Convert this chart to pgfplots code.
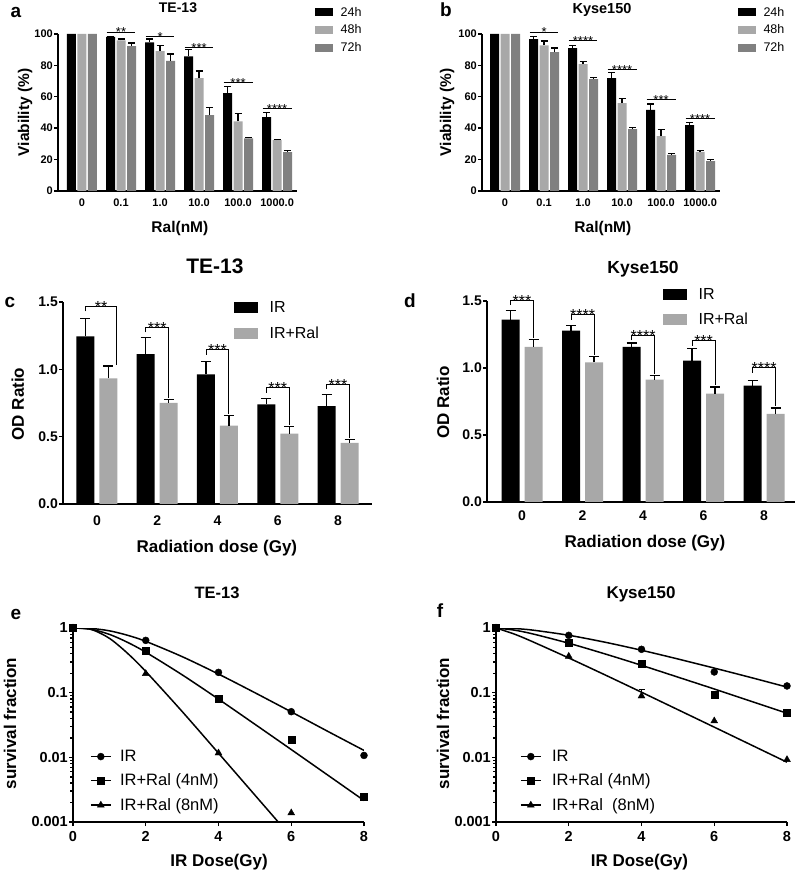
\documentclass[border=0pt]{standalone}
\usepackage{fontspec}
\setmainfont{Liberation Sans}
\usepackage{pgfplots}
\pgfplotsset{compat=1.18}
\definecolor{gA}{HTML}{A8A8A8}
\definecolor{gB}{HTML}{808080}
\newcommand{\fs}[1]{\fontsize{#1}{#1}\selectfont}
\pgfplotsset{
  base/.style={scale only axis, anchor=south west,
    axis lines*=left, axis line style={line width=1.6pt,-,black},
    tick align=outside, major tick length=4pt,
    tick style={line width=1.4pt,black},
    /pgf/number format/assume math mode=true,
    tick label style={font=\fs{#1}\bfseries},
    yticklabel style={inner sep=1pt},
  },
  eb/.style={error bars/.cd, y dir=plus, y explicit,
    error bar style={draw=black, line width=1.3pt},
    error mark options={draw=black, line width=1.3pt, rotate=90, mark size=#1}},
  ebp/.style={draw=none, forget plot, eb=#1},
  lgA/.style={legend image code/.code={\fill[##1] (0pt,-4pt) rectangle (18pt,4pt);}},
  lgC/.style={legend image code/.code={\fill[##1] (0pt,-5.5pt) rectangle (24pt,5.5pt);}},
  lgE/.style={legend image code/.code={\draw[line width=1.5pt,black] (0pt,0pt) -- (20pt,0pt); \draw[##1] plot coordinates {(10pt,0pt)};}},
}
\tikzset{ttl/.style={inner sep=0pt, text depth=0pt, font=\fs{#1}\bfseries}}
\begin{document}
\begin{tikzpicture}
\path[use as bounding box] (0pt,0pt) rectangle (797pt,876pt);

% ---------------- panel a ----------------
\begin{axis}[base=11, at={(58pt,685pt)}, width=239pt, height=157pt,
  clip=false, xmin=-0.615, xmax=5.51, ymin=0, ymax=100,
  xtick={0,...,5}, xticklabels={0,0.1,1.0,10.0,100.0,1000.0},
  xtick style={draw=none}, ytick={0,20,...,100},
  xlabel={Ral(nM)}, ylabel={Viability (\%)},
  label style={font=\fs{15.5}\bfseries},
  xlabel style={at={(axis description cs:0.51,-0.236)}, anchor=center},
  ylabel style={at={(axis description cs:-0.138,0.5)}, anchor=center},
  legend style={draw=none, fill=none, inner sep=0pt, at={(axis description cs:1.075,1.175)}, anchor=north west, font=\fs{12.5}, row sep=6pt, nodes={inner sep=0.5pt}, /tikz/every odd column/.append style={column sep=7pt}},
  legend cell align=left]
\addplot[ybar, bar width=9pt, bar shift=-10.5pt, fill=black, draw=none, lgA] coordinates {(0,100) (1,98.1) (2,94.7) (3,85.7) (4,62.3) (5,47.1)};
\addplot[ybar, bar width=9pt, bar shift=0pt, fill=gA, draw=none, lgA] coordinates {(0,100) (1,95.9) (2,89.1) (3,71.9) (4,44.3) (5,32.4)};
\addplot[ybar, bar width=9pt, bar shift=10.5pt, fill=gB, draw=none, lgA] coordinates {(0,100) (1,92.3) (2,82.9) (3,48.4) (4,33.5) (5,24.7)};
\addplot[ebp=3.5pt] coordinates {(0.731,98.1)+-(0,0.4) (1.731,94.7)+-(0,2.1) (2.731,85.7)+-(0,4.3) (3.731,62.3)+-(0,4.2) (4.731,47.1)+-(0,2.8)};
\addplot[ebp=3.5pt] coordinates {(1,95.9)+-(0,0.9) (2,89.1)+-(0,3.7) (3,71.9)+-(0,4.6) (4,44.3)+-(0,5.2) (5,32.4)+-(0,0.4)};
\addplot[ebp=3.5pt] coordinates {(1.269,92.3)+-(0,1.9) (2.269,82.9)+-(0,4.3) (3.269,48.4)+-(0,4.7) (4.269,33.5)+-(0,0.6) (5.269,24.7)+-(0,0.9)};
\legend{24h,48h,72h}
\foreach \g/\h/\s in {1/101.3/**, 2/98.7/*, 3/91.5/***, 4/69.3/***, 5/52.7/****}{
  \edef\tmp{\noexpand\draw[line width=0.9pt] (axis cs:\g-0.37,\h) -- (axis cs:\g+0.37,\h) node[midway, anchor=base, yshift=-5pt, inner sep=0pt, font=\noexpand\fs{13}] {\s};}\tmp
}
\end{axis}

% ---------------- panel b ----------------
\begin{axis}[base=11, at={(482pt,685pt)}, width=238pt, height=157pt,
  clip=false, xmin=-0.59, xmax=5.51, ymin=0, ymax=100,
  xtick={0,...,5}, xticklabels={0,0.1,1.0,10.0,100.0,1000.0},
  xtick style={draw=none}, ytick={0,20,...,100},
  xlabel={Ral(nM)}, ylabel={Viability (\%)},
  label style={font=\fs{15.5}\bfseries},
  xlabel style={at={(axis description cs:0.508,-0.236)}, anchor=center},
  ylabel style={at={(axis description cs:-0.147,0.5)}, anchor=center},
  legend style={draw=none, fill=none, inner sep=0pt, at={(axis description cs:1.075,1.175)}, anchor=north west, font=\fs{12.5}, row sep=6pt, nodes={inner sep=0.5pt}, /tikz/every odd column/.append style={column sep=7pt}},
  legend cell align=left]
\addplot[ybar, bar width=9pt, bar shift=-10.5pt, fill=black, draw=none, lgA] coordinates {(0,100) (1,96.8) (2,91.0) (3,71.9) (4,51.6) (5,42.0)};
\addplot[ybar, bar width=9pt, bar shift=0pt, fill=gA, draw=none, lgA] coordinates {(0,100) (1,92.75) (2,80.8) (3,55.9) (4,35.0) (5,24.9)};
\addplot[ybar, bar width=9pt, bar shift=10.5pt, fill=gB, draw=none, lgA] coordinates {(0,100) (1,88.5) (2,71.2) (3,39.4) (4,23.0) (5,19.0)};
\addplot[ebp=3.5pt] coordinates {(0.731,96.8)+-(0,1.7) (1.731,91.0)+-(0,1.75) (2.731,71.9)+-(0,3.6) (3.731,51.6)+-(0,3.8) (4.731,42.0)+-(0,1.7)};
\addplot[ebp=3.5pt] coordinates {(1,92.75)+-(0,2.75) (2,80.8)+-(0,1.7) (3,55.9)+-(0,3.2) (4,35.0)+-(0,4.2) (5,24.9)+-(0,1.1)};
\addplot[ebp=3.5pt] coordinates {(1.269,88.5)+-(0,2.5) (2.269,71.2)+-(0,1.1) (3.269,39.4)+-(0,1.1) (4.269,23.0)+-(0,0.9) (5.269,19.0)+-(0,1.0)};
\legend{24h,48h,72h}
\foreach \g/\h/\s in {1/101.3/*, 2/96.0/****, 3/77.6/****, 4/58.0/***, 5/46.1/****}{
  \edef\tmp{\noexpand\draw[line width=0.9pt] (axis cs:\g-0.37,\h) -- (axis cs:\g+0.37,\h) node[midway, anchor=base, yshift=-5pt, inner sep=0pt, font=\noexpand\fs{13}] {\s};}\tmp
}
\end{axis}

% ---------------- panel c ----------------
\begin{axis}[base=14, at={(63pt,372pt)}, width=309pt, height=202pt,
  clip=false, xmin=-0.564, xmax=4.564, ymin=0, ymax=1.5,
  xtick={0,...,4}, xticklabels={0,2,4,6,8},
  xtick style={draw=none}, ytick={0,0.5,1,1.5},
  yticklabel style={/pgf/number format/.cd, fixed, fixed zerofill, precision=1},
  xticklabel style={yshift=-4pt},
  xlabel={Radiation dose (Gy)}, ylabel={OD Ratio},
  label style={font=\fs{17}\bfseries},
  xlabel style={at={(axis description cs:0.498,-0.218)}, anchor=center},
  ylabel style={at={(axis description cs:-0.146,0.495)}, anchor=center},
  legend style={draw=none, fill=none, inner sep=0pt, at={(axis description cs:0.553,1.005)}, anchor=north west, font=\fs{16}, row sep=11.5pt, nodes={inner sep=0.5pt}, /tikz/every odd column/.append style={column sep=11pt}},
  legend cell align=left]
\addplot[ybar, bar width=18pt, bar shift=-11.5pt, fill=black, draw=none, lgC] coordinates {(0,1.244) (1,1.112) (2,0.963) (3,0.739) (4,0.726)};
\addplot[ybar, bar width=18pt, bar shift=11.5pt, fill=gA, draw=none, lgC] coordinates {(0,0.933) (1,0.751) (2,0.582) (3,0.522) (4,0.453)};
\addplot[ebp=5pt] coordinates {(-0.191,1.244)+-(0,0.136) (0.809,1.112)+-(0,0.124) (1.809,0.963)+-(0,0.094) (2.809,0.739)+-(0,0.042) (3.809,0.726)+-(0,0.087)};
\addplot[ebp=5pt] coordinates {(0.191,0.933)+-(0,0.092) (1.191,0.751)+-(0,0.025) (2.191,0.582)+-(0,0.077) (3.191,0.522)+-(0,0.055) (4.191,0.453)+-(0,0.025)};
\legend{IR,IR+Ral}
\foreach \g/\h/\l/\r/\rx/\s in {0/1.468/1.43/1.035/0.33/**, 1/1.311/1.274/0.79/0.19/***, 2/1.144/1.107/0.67/0.19/***, 3/0.863/0.826/0.59/0.19/***, 4/0.888/0.851/0.49/0.19/***}{
  \edef\tmp{\noexpand\draw[line width=1pt] (axis cs:\g-0.19,\l) -- (axis cs:\g-0.19,\h) -- (axis cs:\g+\rx,\h) -- (axis cs:\g+\rx,\r);
  \noexpand\node[anchor=base, yshift=-6pt, inner sep=0pt, font=\noexpand\fs{16}] at (axis cs:\g+\rx/2-0.095,\h) {\s};}\tmp
}
\end{axis}

% ---------------- panel d ----------------
\begin{axis}[base=14, at={(487pt,374pt)}, width=308pt, height=201pt,
  clip=false, xmin=-0.579, xmax=4.51, ymin=0, ymax=1.5,
  xtick={0,...,4}, xticklabels={0,2,4,6,8},
  xtick style={draw=none}, ytick={0,0.5,1,1.5},
  yticklabel style={/pgf/number format/.cd, fixed, fixed zerofill, precision=1},
  xticklabel style={yshift=-1pt},
  xlabel={Radiation dose (Gy)}, ylabel={OD Ratio},
  label style={font=\fs{17}\bfseries},
  xlabel style={at={(axis description cs:0.513,-0.204)}, anchor=center},
  ylabel style={at={(axis description cs:-0.143,0.495)}, anchor=center},
  legend style={draw=none, fill=none, inner sep=0pt, at={(axis description cs:0.571,1.065)}, anchor=north west, font=\fs{16}, row sep=11pt, nodes={inner sep=0.5pt}, /tikz/every odd column/.append style={column sep=11pt}},
  legend cell align=left]
\addplot[ybar, bar width=18pt, bar shift=-11.5pt, fill=black, draw=none, lgC] coordinates {(0,1.361) (1,1.279) (2,1.157) (3,1.055) (4,0.868)};
\addplot[ybar, bar width=18pt, bar shift=11.5pt, fill=gA, draw=none, lgC] coordinates {(0,1.157) (1,1.042) (2,0.913) (3,0.808) (4,0.657)};
\addplot[ebp=5pt] coordinates {(-0.19,1.361)+-(0,0.069) (0.81,1.279)+-(0,0.037) (1.81,1.157)+-(0,0.030) (2.81,1.055)+-(0,0.089) (3.81,0.868)+-(0,0.040)};
\addplot[ebp=5pt] coordinates {(0.19,1.157)+-(0,0.054) (1.19,1.042)+-(0,0.045) (2.19,0.913)+-(0,0.030) (3.19,0.808)+-(0,0.050) (4.19,0.657)+-(0,0.044)};
\legend{IR,IR+Ral}
\foreach \g/\h/\l/\r/\s in {0/1.507/1.47/1.225/***, 1/1.398/1.36/1.10/****, 2/1.244/1.207/0.955/****, 3/1.204/1.167/0.87/***, 4/1.0/0.963/0.715/****}{
  \edef\tmp{\noexpand\draw[line width=1pt] (axis cs:\g-0.19,\l) -- (axis cs:\g-0.19,\h) -- (axis cs:\g+0.19,\h) -- (axis cs:\g+0.19,\r);
  \noexpand\node[anchor=base, yshift=-6pt, inner sep=0pt, font=\noexpand\fs{16}] at (axis cs:\g,\h) {\s};}\tmp
}
\end{axis}

% ---------------- panel e ----------------
\begin{axis}[base=14.5, at={(73pt,54pt)}, width=291pt, height=194pt,
  ymode=log, xmin=0, xmax=8, ymin=0.001, ymax=1,
  xtick={0,2,4,6,8}, ytick={0.001,0.01,0.1,1}, yticklabels={0.001,0.01,0.1,1},
  xticklabel style={yshift=-2pt},
  xlabel={IR Dose(Gy)}, ylabel={survival fraction},
  label style={font=\fs{17}\bfseries},
  xlabel style={at={(axis description cs:0.502,-0.206)}, anchor=center},
  ylabel style={at={(axis description cs:-0.216,0.508)}, anchor=center},
  legend style={draw=none, fill=none, inner sep=0pt, at={(axis description cs:0.058,0.374)}, anchor=north west, font=\fs{16.5}, row sep=10pt, nodes={inner sep=0.5pt}, /tikz/every odd column/.append style={column sep=8pt}},
  legend cell align=left]
\addplot[smooth, line width=1.5pt, black, forget plot] coordinates {(0,1) (0.5,0.985) (1,0.905) (1.5,0.772) (2,0.622) (3,0.361) (4,0.194) (5,0.0999) (6,0.0505) (7,0.0253) (8,0.0128)};
\addplot[smooth, line width=1.5pt, black, forget plot] coordinates {(0,1) (0.5,0.956) (1,0.798) (1.5,0.600) (2,0.4225) (3,0.189) (4,0.0795) (5,0.0325) (6,0.0132) (7,0.00533) (8,0.00215)};
\addplot[smooth, line width=1.5pt, black, forget plot] coordinates {(0,1) (0.5,0.95) (1,0.693) (1.5,0.406) (2,0.213) (3,0.0512) (4,0.0116) (5,0.00261) (6,0.000586)};
\addplot[only marks, mark=*, mark size=3.5pt, black, lgE] coordinates {(0,1) (2,0.644) (4,0.206) (6,0.0508) (8,0.0107)};
\addplot[only marks, mark=square*, mark size=3.5pt, black, lgE] coordinates {(0,1) (2,0.452) (4,0.0807) (6,0.0188) (8,0.00244)};
\addplot[only marks, mark=triangle*, mark size=4pt, black, lgE] coordinates {(0,1) (2,0.197) (4,0.01167) (6,0.00138)};
\legend{IR,IR+Ral (4nM),IR+Ral (8nM)}
\end{axis}

% ---------------- panel f ----------------
\begin{axis}[base=14.5, at={(496pt,54pt)}, width=291pt, height=194pt,
  ymode=log, xmin=0, xmax=8, ymin=0.001, ymax=1,
  xtick={0,2,4,6,8}, ytick={0.001,0.01,0.1,1}, yticklabels={0.001,0.01,0.1,1},
  xticklabel style={yshift=-2pt},
  xlabel={IR Dose(Gy)}, ylabel={survival fraction},
  label style={font=\fs{17}\bfseries},
  xlabel style={at={(axis description cs:0.493,-0.206)}, anchor=center},
  ylabel style={at={(axis description cs:-0.182,0.508)}, anchor=center},
  legend style={draw=none, fill=none, inner sep=0pt, at={(axis description cs:0.082,0.374)}, anchor=north west, font=\fs{16.5}, row sep=10pt, nodes={inner sep=0.5pt}, /tikz/every odd column/.append style={column sep=10pt}},
  legend cell align=left]
\addplot[smooth, line width=1.5pt, black, forget plot] coordinates {(0,1) (0.5,0.981) (1,0.929) (2,0.772) (3,0.6025) (4,0.453) (5,0.332) (6,0.240) (7,0.172) (8,0.122)};
\addplot[smooth, line width=1.5pt, black, forget plot] coordinates {(0,1) (0.5,0.928) (1,0.813) (2,0.5815) (3,0.397) (4,0.265) (5,0.174) (6,0.114) (7,0.0741) (8,0.0481)};
\addplot[smooth, line width=1.5pt, black, forget plot] coordinates {(0,1) (0.5,0.807) (1,0.616) (2,0.344) (3,0.188) (4,0.1016) (5,0.0546) (6,0.0293) (7,0.0157) (8,0.00841)};
\addplot[only marks, mark=*, mark size=3.5pt, black, lgE] coordinates {(0,1) (2,0.77) (4,0.468) (6,0.209) (8,0.127)};
\addplot[only marks, mark=square*, mark size=3.5pt, black, lgE] coordinates {(0,1) (2,0.593) (4,0.281) (6,0.0931) (8,0.0491)};
\addplot[only marks, mark=triangle*, mark size=4pt, black, lgE] coordinates {(0,1) (2,0.365) (4,0.0888) (6,0.0365) (8,0.0092)};
\addplot[ebp=3pt] coordinates {(4,0.0888)+-(0,0.022)};
\legend{IR,IR+Ral~(4nM),IR+Ral~~(8nM)}
\end{axis}

% ---------------- titles and panel letters ----------------
\node[ttl=14] at (178pt,868pt) {TE-13};
\node[ttl=14.5] at (602pt,868pt) {Kyse150};
\node[ttl=21] at (215pt,610pt) {TE-13};
\node[ttl=17.5] at (643pt,609pt) {Kyse150};
\node[ttl=16.5] at (217pt,283pt) {TE-13};
\node[ttl=17] at (641pt,283pt) {Kyse150};
\node[ttl=19] at (16pt,864pt) {a};
\node[ttl=19] at (446pt,866pt) {b};
\node[ttl=19] at (10pt,574pt) {c};
\node[ttl=19] at (410pt,575pt) {d};
\node[ttl=19] at (16pt,262pt) {e};
\node[ttl=19] at (440pt,265pt) {f};
\end{tikzpicture}
\end{document}
